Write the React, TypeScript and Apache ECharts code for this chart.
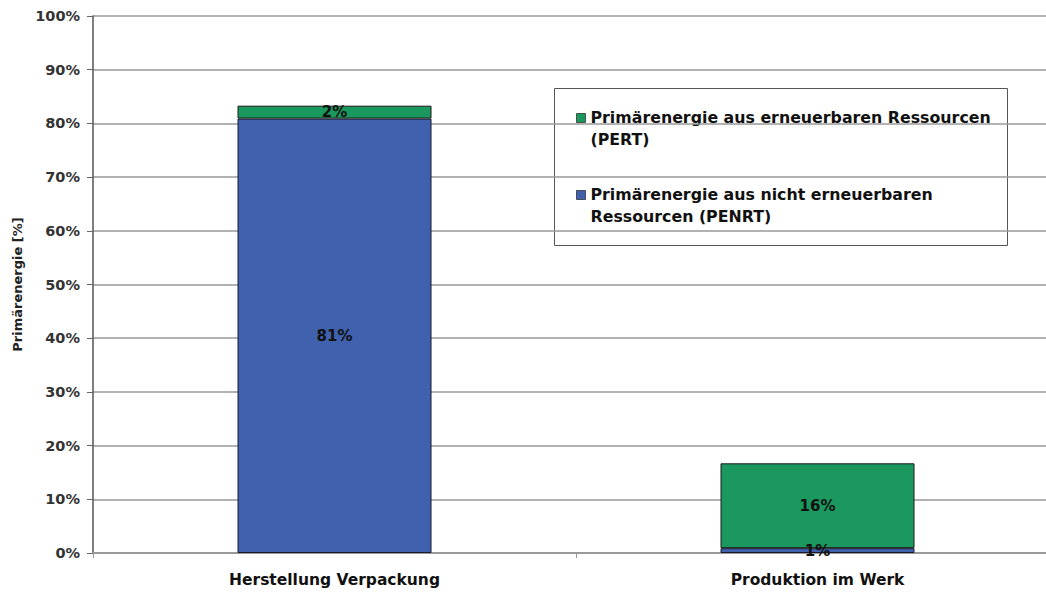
import React, { useEffect, useRef } from "react";
import * as echarts from "echarts";

const categories = ["Herstellung Verpackung", "Produktion im Werk"];
const penrtValues = [80.9, 0.9];
const pertValues = [2.4, 15.8];
const penrtLabels = ["81%", "1%"];
const pertLabels = ["2%", "16%"];
const yTicks = [0, 10, 20, 30, 40, 50, 60, 70, 80, 90, 100];
const pertName = "Primärenergie aus erneuerbaren Ressourcen\n(PERT)";
const penrtName = "Primärenergie aus nicht erneuerbaren\nRessourcen (PENRT)";

const GREEN = "#1b985e";
const BLUE = "#4061ad";
const FONT = "'DejaVu Sans', sans-serif";

export default function App() {
  const ref = useRef<HTMLDivElement>(null);
  useEffect(() => {
    const chart = echarts.init(ref.current!, null, { renderer: "svg" });
    const labelStyle = {
      show: true,
      position: "inside",
      color: "#111",
      fontWeight: "bold",
      fontSize: 15,
      fontFamily: FONT,
    };
    chart.setOption({
      animation: false,
      backgroundColor: "#fff",
      grid: { left: 93, top: 16, right: 0, bottom: 39, containLabel: false },
      xAxis: {
        type: "category",
        data: categories,
        axisLine: { lineStyle: { color: "#999", width: 2 } },
        axisTick: { show: true, length: 5, lineStyle: { color: "#999" } },
        axisLabel: {
          color: "#111",
          fontWeight: "bold",
          fontSize: 15.5,
          fontFamily: FONT,
          margin: 19,
        },
      },
      yAxis: {
        type: "value",
        min: 0,
        max: 100,
        interval: 10,
        name: "Primärenergie [%]",
        nameLocation: "middle",
        nameRotate: 90,
        nameGap: 68,
        nameTextStyle: { fontSize: 13, fontWeight: "bold", color: "#222", fontFamily: FONT },
        axisLine: { show: true, lineStyle: { color: "#555", width: 1.5 } },
        axisTick: { show: true, inside: false, length: 6, lineStyle: { color: "#666" } },
        axisLabel: {
          color: "#333",
          fontWeight: "bold",
          fontSize: 14.5,
          fontFamily: FONT,
          margin: 13,
          formatter: (v: number) => (yTicks.includes(v) ? v + "%" : ""),
        },
        splitLine: { lineStyle: { color: "#999", width: 1.5 } },
      },
      series: [
        {
          name: penrtName,
          type: "bar",
          stack: "total",
          barWidth: 194,
          data: penrtValues,
          itemStyle: { color: BLUE, borderColor: "#1a1a2a", borderWidth: 1 },
          label: { ...labelStyle, formatter: (p: any) => penrtLabels[p.dataIndex] },
        },
        {
          name: pertName,
          type: "bar",
          stack: "total",
          barWidth: 194,
          data: pertValues,
          itemStyle: { color: GREEN, borderColor: "#1a1a1a", borderWidth: 1 },
          label: { ...labelStyle, formatter: (p: any) => pertLabels[p.dataIndex] },
        },
      ],
      graphic: [
        {
          type: "group",
          left: 554,
          top: 88,
          children: [
            {
              type: "rect",
              shape: { x: 0, y: 0, width: 453, height: 157 },
              style: { fill: "#fff", stroke: "#555", lineWidth: 1 },
            },
            {
              type: "rect",
              shape: { x: 22, y: 25, width: 9, height: 9 },
              style: { fill: GREEN, stroke: "#333", lineWidth: 0.8 },
            },
            {
              type: "text",
              x: 36,
              y: 18,
              style: {
                text: pertName,
                font: `bold 15.8px ${FONT}`,
                fill: "#111",
                lineHeight: 22,
              },
            },
            {
              type: "rect",
              shape: { x: 22, y: 102, width: 9, height: 9 },
              style: { fill: BLUE, stroke: "#333", lineWidth: 0.8 },
            },
            {
              type: "text",
              x: 36,
              y: 95,
              style: {
                text: penrtName,
                font: `bold 15.8px ${FONT}`,
                fill: "#111",
                lineHeight: 22,
              },
            },
          ],
        },
      ],
    });
    return () => chart.dispose();
  }, []);
  return (
    <div
      style={{
        position: "absolute",
        left: 0,
        top: 0,
        width: 1046,
        height: 592,
        overflow: "hidden",
        background: "#fff",
      }}
    >
      <div ref={ref} style={{ width: 1059, height: 592 }} />
    </div>
  );
}
